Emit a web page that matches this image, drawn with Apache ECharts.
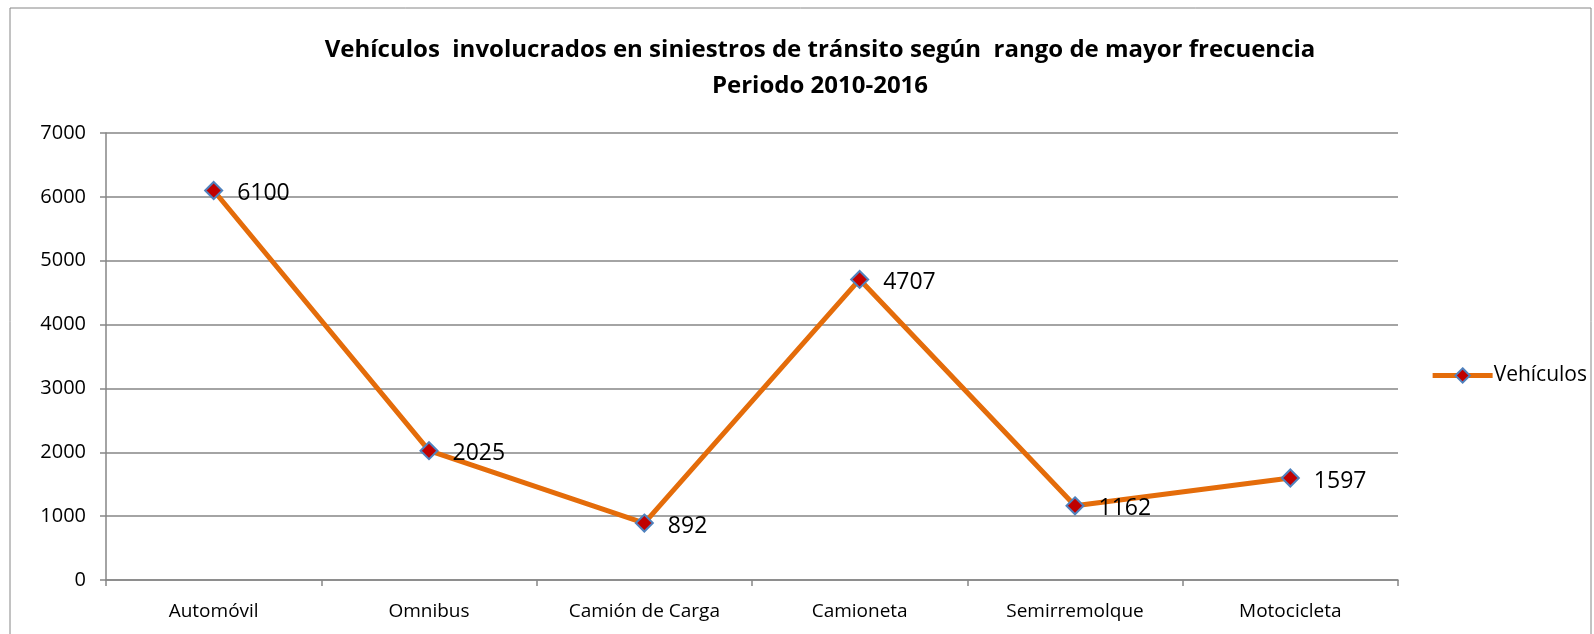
<!DOCTYPE html>
<html>
<head>
<meta charset="utf-8">
<script src="https://cdn.jsdelivr.net/npm/echarts@6/dist/echarts.min.js"></script>
<style>
  html, body { margin: 0; padding: 0; background: #fff; }
  #chart { width: 1594px; height: 634px; }
</style>
</head>
<body>
<div id="chart"></div>
<script>
// categorias y valores
var categories = ["Automóvil", "Omnibus", "Camión de Carga", "Camioneta", "Semirremolque", "Motocicleta"];
var vehiculos = [6100, 2025, 892, 4707, 1162, 1597];
var seriesName = "Vehículos";

var myChart = echarts.init(document.getElementById("chart"));
var font = "'Open Sans', 'Noto Sans', sans-serif";

var option = {
  animation: false,
  textStyle: { fontFamily: font },
  title: {
    text: "Vehículos  involucrados en siniestros de tránsito según  rango de mayor frecuencia\nPeriodo 2010-2016",
    left: 815,
    top: 27,
    textAlign: "center",
    textStyle: {
      fontSize: 24,
      fontWeight: "bold",
      color: "#000",
      lineHeight: 36,
      fontFamily: font
    }
  },
  graphic: [
    {
      type: "rect",
      shape: { x: 10, y: 8, width: 1581, height: 640 },
      style: { fill: "none", stroke: "#868686", lineWidth: 1 },
      silent: true
    }
  ],
  legend: {
    data: [{ name: seriesName }],
    right: 2,
    top: 360,
    itemWidth: 60,
    itemHeight: 18,
    itemGap: 0,
    lineStyle: { width: 5 },
    textStyle: { fontSize: 21, color: "#000", padding: [0, 0, 0, -4] }
  },
  grid: {
    left: 106,
    right: 196,
    top: 133,
    bottom: 54,
    containLabel: false
  },
  xAxis: {
    type: "category",
    data: categories,
    boundaryGap: true,
    axisLine: { lineStyle: { color: "#868686", width: 1.5 } },
    axisTick: { show: true, length: 6, lineStyle: { color: "#868686", width: 1.5 } },
    axisLabel: { fontSize: 19, color: "#000", margin: 22 },
    splitLine: { show: false }
  },
  yAxis: {
    type: "value",
    min: 0,
    max: 7000,
    interval: 1000,
    axisLine: { show: true, lineStyle: { color: "#868686", width: 1.5 } },
    axisTick: { show: true, length: 6, lineStyle: { color: "#868686", width: 1.5 } },
    axisLabel: { fontSize: 20, color: "#000", margin: 20, formatter: function (v) { return String(v); } },
    splitLine: { show: true, lineStyle: { color: "#868686", width: 1.5 } }
  },
  series: [
    {
      name: seriesName,
      type: "line",
      data: vehiculos,
      symbol: "diamond",
      symbolSize: 17,
      lineStyle: { color: "#E46C0A", width: 5 },
      itemStyle: { color: "#C00000", borderColor: "#4F81BD", borderWidth: 2 },
      label: {
        show: true,
        position: "right",
        distance: 14,
        fontSize: 23,
        color: "#000",
        offset: [0, 3]
      }
    }
  ]
};
myChart.setOption(option);
window.onresize = myChart.resize;
</script>
</body>
</html>
